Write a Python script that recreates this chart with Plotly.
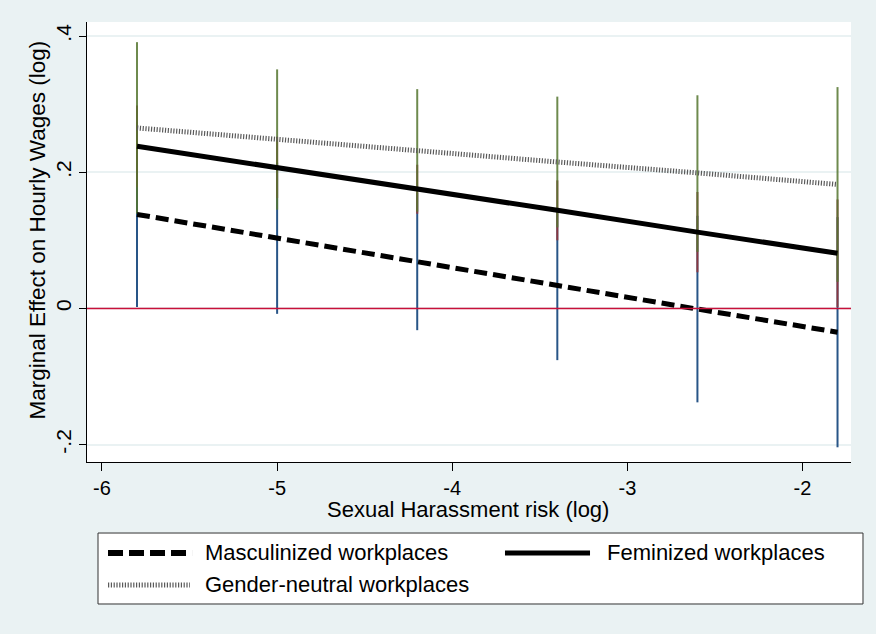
import plotly.graph_objects as go

# Sexual harassment risk (log) evaluation points
risk = [-5.8, -5.0, -4.2, -3.4, -2.6, -1.8]

# Marginal effects on log hourly wages
masc_effect = [0.138, 0.103, 0.069, 0.034, -0.001, -0.035]
fem_effect = [0.238, 0.207, 0.175, 0.144, 0.112, 0.081]
neutral_effect = [0.265, 0.248, 0.232, 0.215, 0.199, 0.182]

# Confidence intervals
masc_lo = [0.002, -0.008, -0.032, -0.076, -0.138, -0.204]
masc_hi = [0.274, 0.214, 0.170, 0.144, 0.136, 0.134]
fem_lo = [0.178, 0.162, 0.139, 0.100, 0.053, 0.002]
fem_hi = [0.298, 0.252, 0.211, 0.188, 0.171, 0.160]
neutral_lo = [0.139, 0.145, 0.142, 0.119, 0.083, 0.039]
neutral_hi = [0.391, 0.351, 0.322, 0.311, 0.313, 0.325]

x_ticks = [-6, -5, -4, -3, -2]
x_ticktext = ["-6", "-5", "-4", "-3", "-2"]
y_ticks = [-0.2, 0, 0.2, 0.4]
y_ticktext = ["-.2", "0", ".2", ".4"]

FONT = "Liberation Sans, Arial, sans-serif"
BG = "#eaf2f3"


def spikes(lo, hi):
    xs, ys = [], []
    for x, l, h in zip(risk, lo, hi):
        xs += [x, x, None]
        ys += [l, h, None]
    return xs, ys


fig = go.Figure()

ci_specs = [
    (masc_lo, masc_hi, "rgb(40,85,135)"),
    (fem_lo, fem_hi, "rgba(144,53,59,0.92)"),
    (neutral_lo, neutral_hi, "rgba(85,117,47,0.85)"),
]
for lo, hi, col in ci_specs:
    xs, ys = spikes(lo, hi)
    fig.add_trace(go.Scatter(x=xs, y=ys, mode="lines",
                             line=dict(color=col, width=2),
                             showlegend=False, hoverinfo="skip"))

MASC_DASH = "13px,6px"
NEUT_DASH = "1.2px,1.6px"
NEUT_COLOR = "#5a5a5a"

fig.add_trace(go.Scatter(x=risk, y=masc_effect, mode="lines",
                         line=dict(color="black", width=5, dash=MASC_DASH),
                         showlegend=False))
fig.add_trace(go.Scatter(x=risk, y=fem_effect, mode="lines",
                         line=dict(color="black", width=5),
                         showlegend=False))
fig.add_trace(go.Scatter(x=risk, y=neutral_effect, mode="lines",
                         line=dict(color=NEUT_COLOR, width=5, dash=NEUT_DASH),
                         showlegend=False))

# Reference line at zero
fig.add_shape(type="line", xref="paper", x0=0, x1=1, yref="y", y0=0, y1=0,
              line=dict(color="#c8103a", width=1.5), layer="above")

# Legend box
fig.add_shape(type="rect", xref="paper", yref="paper",
              x0=0.0144, x1=1.0157, y0=-0.3227, y1=-0.1614,
              line=dict(color="#333333", width=1), fillcolor="white", layer="above")

row1, row2 = -0.2068, -0.2795
legend_items = [
    (0.0275, 0.1375, row1, dict(color="black", width=6, dash="15px,6px"), "Masculinized workplaces", 0.1518),
    (0.5471, 0.6584, row1, dict(color="black", width=5), "Feminized workplaces", 0.678),
    (0.0275, 0.1348, row2, dict(color=NEUT_COLOR, width=5, dash=NEUT_DASH), "Gender-neutral workplaces", 0.1518),
]
for x0, x1, yy, ln, label, tx in legend_items:
    fig.add_shape(type="line", xref="paper", yref="paper", x0=x0, x1=x1, y0=yy, y1=yy,
                  line=ln, layer="above")
    fig.add_annotation(xref="paper", yref="paper", x=tx, y=yy, text=label,
                       showarrow=False, xanchor="left", yanchor="middle",
                       font=dict(family=FONT, size=22, color="black"))

# Axis titles
fig.add_annotation(xref="paper", yref="paper", x=0.499, y=-0.108,
                   text="Sexual Harassment risk (log)", showarrow=False,
                   xanchor="center", yanchor="middle",
                   font=dict(family=FONT, size=22, color="black"))
fig.add_annotation(xref="paper", yref="paper", x=-0.0641, y=0.526,
                   text="Marginal Effect on Hourly Wages (log)", showarrow=False,
                   textangle=-90, xanchor="center", yanchor="middle",
                   font=dict(family=FONT, size=22.5, color="black"))

fig.update_layout(
    width=876, height=634,
    margin=dict(l=87, r=25, t=22, b=172),
    paper_bgcolor=BG, plot_bgcolor="white",
    font=dict(family=FONT, color="black"),
    xaxis=dict(range=[-6.0856, -1.723], tickvals=x_ticks, ticktext=x_ticktext,
               ticks="outside", ticklen=8, tickcolor="black", tickwidth=1,
               showline=True, linecolor="black", linewidth=1,
               showgrid=False, zeroline=False,
               tickfont=dict(family=FONT, size=20, color="black")),
    yaxis=dict(range=[-0.2256, 0.4206], tickvals=y_ticks, ticktext=y_ticktext,
               tickangle=-90, ticks="outside", ticklen=7, tickcolor="black",
               tickwidth=1, showline=True, linecolor="black", linewidth=1,
               showgrid=True, gridcolor=BG, gridwidth=2, zeroline=False,
               tickfont=dict(family=FONT, size=21, color="black")),
)

fig.write_html("out.html")
